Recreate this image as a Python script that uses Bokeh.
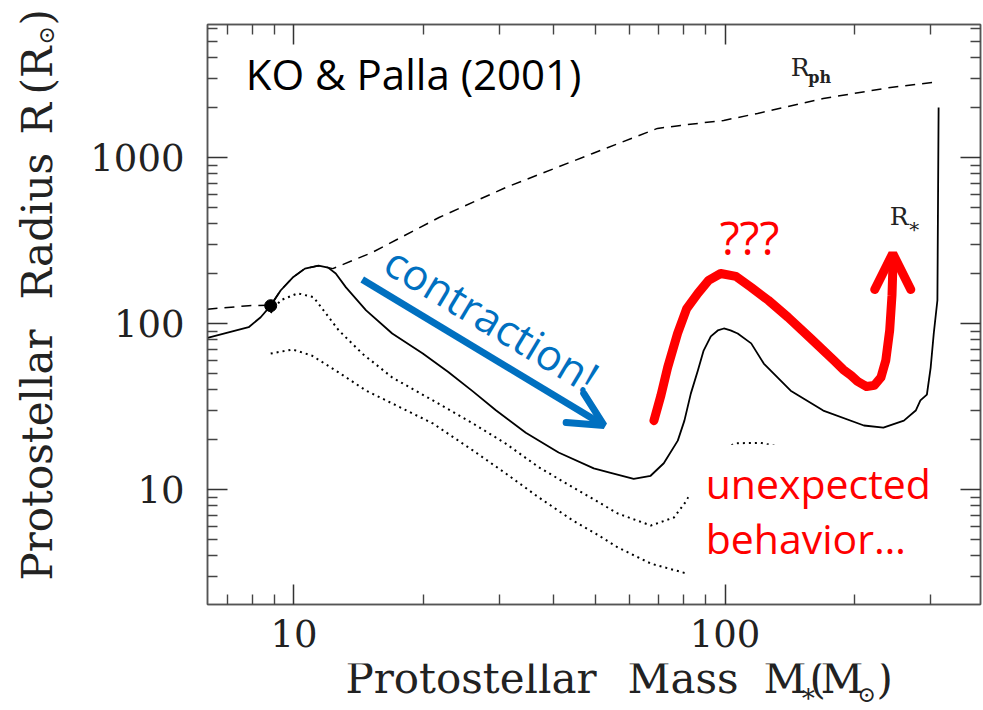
from bokeh.plotting import figure
from bokeh.layouts import row, column
from bokeh.models import (LogAxis, Range1d, Label, Arrow, OpenHead, BoxAnnotation,
                          PrintfTickFormatter, FixedTicker)
from bokeh.embed import file_html
from bokeh.resources import INLINE

# Protostellar radius R* versus accreted mass (solid)
mass_star = [6.3, 7.85, 8.37, 8.83, 9.31, 9.93, 10.6, 11.4, 12.0, 12.5, 13.2, 14.7, 16.9,
             19.9, 22.8, 26.0, 29.4, 34.5, 41.1, 49.6, 54.3, 61.4, 67.2, 72.1, 77.7, 80.5,
             83.3, 86.5, 89.2, 92.7, 96.2, 99.4, 103, 107, 115, 123, 142, 169, 210, 233,
             260, 277, 284, 294, 300, 305, 311, 313]
radius_star = [82, 95, 109, 128, 158, 189, 214, 223, 217, 200, 165, 120, 87,
               66, 51, 39, 30, 22, 16.7, 13.4, 12.6, 11.6, 12.1, 14.4, 19.7, 26.0,
               37.8, 52.1, 68.7, 83.6, 90.8, 93.3, 90.8, 87, 75.9, 57.4, 39.4, 29.9, 24.3, 23.6,
               26.0, 29.9, 34.4, 37.3, 54.3, 87, 138, 2000]

# photospheric radius R_ph (dashed)
mass_ph = [6.3, 7.85, 8.83, 9.31, 9.93, 10.6, 11.4, 12.3, 15.2, 21.7, 31.0, 49.3, 69.7,
           78.9, 99.3, 119, 169, 242, 305]
radius_ph = [122, 128, 129, 158, 189, 214, 223, 214, 268, 435, 659, 1057, 1496,
             1560, 1671, 1842, 2265, 2641, 2833]

# lower accretion-rate models (dotted)
mass_low1 = [8.83, 9.31, 10.2, 11.1, 12.7, 14.4, 16.9, 21.0, 26.0, 31.0, 37.0, 44.4, 50.1,
             56.4, 67.3, 76.1, 81.5, 87.7, 95.1, 106, 121, 150]
radius_low1 = [116, 138, 152, 144, 90.9, 65.9, 47.3, 34.4, 25.0, 18.9, 13.6, 10.3, 8.59,
               7.17, 6.07, 6.78, 8.59, 13.0, 16.7, 19.0, 19.1, 17.0]

mass_low2 = [8.83, 9.93, 11.0, 12.7, 14.7, 16.9, 21.0, 26.0, 31.0, 37.0, 44.4, 50.1, 56.4,
             67.3, 81.5]
radius_low2 = [65.9, 69.7, 64.1, 50.7, 39.4, 33.0, 25.0, 17.2, 12.5, 8.95, 6.50, 5.43, 4.48,
               3.58, 3.12]

# starting point of the tracks
start_mass = [8.83]
start_radius = [128]

# hand-drawn "???" excursion
sketch_mass = [68.4, 71.0, 73.6, 77.6, 81.5, 86.5, 91.6, 97.7, 106, 115, 126, 140, 158,
               179, 188, 196, 203, 213, 222, 230, 236, 241, 244, 245]
sketch_radius = [26.0, 36.8, 54.3, 87.1, 123, 152, 182, 200, 192, 165, 138, 109, 81.3,
                 59.8, 52.8, 48.7, 44.8, 41.7, 42.4, 47.3, 59.8, 90.8, 148, 208]
sketch_tip = (245, 264)

# contraction arrow
contraction_from = (14.4, 184)
contraction_to = (52.4, 24.3)

x_major = [10, 100]
x_minor = [7, 8, 9, 20, 30, 40, 50, 60, 70, 80, 90, 200, 300]
y_major = [10, 100, 1000]
y_minor = [3, 4, 5, 6, 7, 8, 9, 20, 30, 40, 50, 60, 70, 80, 90,
           200, 300, 400, 500, 600, 700, 800, 900, 2000, 3000, 4000, 5000, 6000]

SERIF = "DejaVu Serif"
SANS = "Open Sans"
INK = "#222222"

p = figure(width=913, height=663, x_axis_type="log", y_axis_type="log",
           x_range=Range1d(6.3, 391.5), y_range=Range1d(2.03, 6320),
           output_backend="svg", toolbar_location=None,
           min_border_left=137, min_border_right=3, min_border_top=24, min_border_bottom=59,
           background_fill_color="white", border_fill_color="white")
p.grid.visible = False
p.outline_line_color = "#555555"
p.outline_line_width = 1.5

p.add_layout(LogAxis(), "above")
p.add_layout(LogAxis(), "right")

for ax in p.axis:
    ax.major_tick_in = 20
    ax.major_tick_out = 0
    ax.minor_tick_in = 10
    ax.minor_tick_out = 0
    ax.major_tick_line_color = "#333333"
    ax.major_tick_line_width = 1.5
    ax.minor_tick_line_color = "#444444"
    ax.minor_tick_line_width = 1.4
    ax.axis_line_color = "#555555"
    ax.axis_line_width = 1.5
    ax.formatter = PrintfTickFormatter(format="%d")
    ax.major_label_text_font = SERIF
    ax.major_label_text_font_size = "37px"
    ax.major_label_text_color = INK
    ax.axis_label = None

for ax in p.below + p.above:
    ax.ticker = FixedTicker(ticks=x_major, minor_ticks=x_minor)
for ax in p.left + p.right:
    ax.ticker = FixedTicker(ticks=y_major, minor_ticks=y_minor)

# mirrored tick marks on the top and right edges carry no numbers
for ax in p.above + p.right:
    ax.major_label_text_font_size = "1px"
    ax.major_label_text_color = None
    ax.major_label_standoff = 0
p.below[0].major_label_standoff = 15
p.left[0].major_label_standoff = 23

# model tracks
p.line(mass_ph, radius_ph, line_color="black", line_width=1.5, line_dash="10 7")
p.line(mass_low1, radius_low1, line_color="black", line_width=2, line_dash="2 4")
p.line(mass_low2, radius_low2, line_color="black", line_width=2, line_dash="2 4")
p.line(mass_star, radius_star, line_color="black", line_width=1.8, line_join="round")
p.scatter(start_mass, start_radius, size=12, color="black")

# sketch of the expected behaviour
p.line(sketch_mass, sketch_radius, line_color="#ff0000", line_width=9,
       line_cap="round", line_join="round")
p.add_layout(Arrow(end=OpenHead(line_color="#ff0000", line_width=9, size=36, line_cap="round"),
                   x_start=sketch_mass[-1], y_start=sketch_radius[-1],
                   x_end=sketch_tip[0], y_end=sketch_tip[1],
                   line_color="#ff0000", line_width=9))

p.add_layout(Arrow(end=OpenHead(line_color="#0070c0", line_width=7, size=34, line_cap="round"),
                   x_start=contraction_from[0], y_start=contraction_from[1],
                   x_end=contraction_to[0], y_end=contraction_to[1],
                   line_color="#0070c0", line_width=7))

# white panel behind the red note
p.add_layout(BoxAnnotation(left=82.4, right=334, bottom=2.91, top=18.6,
                           fill_color="white", fill_alpha=1.0, line_alpha=0))


def note(fig, x, y, text, font, size, color, **kw):
    kw.setdefault("text_baseline", "alphabetic")
    fig.add_layout(Label(x=x, y=y, text=text, text_font=font, text_font_size=size,
                         text_color=color, **kw))


note(p, 7.73, 3206, "KO & Palla (2001)", SANS, "42px", "black")
note(p, 28.8, 107, "contraction!", SANS, "43px", "#0070c0",
     angle=-31, angle_units="deg", text_align="center", text_baseline="middle")
note(p, 114, 333, "???", SANS, "46px", "#ff0000", text_align="center")
note(p, 90.2, 10.9, "unexpected", SANS, "41px", "#ff0000")
note(p, 90.2, 5.07, "behavior…", SANS, "41px", "#ff0000")

# curve labels
note(p, 142, 3500, "R", SERIF, "25px", INK)
note(p, 156, 3050, "ph", SERIF, "16px", INK, text_font_style="bold")
note(p, 241, 442, "R", SERIF, "25px", INK)
note(p, 265, 384, "∗", SERIF, "20px", INK, text_baseline="middle")


def strip(width, height, x_range):
    f = figure(width=width, height=height, x_range=x_range,
               y_range=Range1d(0, height), output_backend="svg", toolbar_location=None,
               x_axis_location=None, y_axis_location=None, min_border=0,
               outline_line_color=None, background_fill_color="white",
               border_fill_color="white")
    f.grid.visible = False
    return f


# vertical axis title
ytitle = strip(70, 710, Range1d(0, 70))
rot = dict(angle=90, angle_units="deg")
note(ytitle, 37, 130, "Protostellar", SERIF, "42px", INK, **rot)
note(ytitle, 37, 411, "Radius", SERIF, "42px", INK, **rot)
note(ytitle, 37, 576, "R", SERIF, "42px", INK, **rot)
note(ytitle, 37, 616, "(R", SERIF, "42px", INK, **rot)
note(ytitle, 46, 666, "⊙", SERIF, "22px", INK, **rot)
note(ytitle, 37, 685, ")", SERIF, "42px", INK, **rot)

# horizontal axis title, sharing the plot frame's horizontal extent
xtitle = strip(913, 47, Range1d(207, 980))
note(xtitle, 345, 32, "Protostellar", SERIF, "42px", INK)
note(xtitle, 627, 32, "Mass", SERIF, "42px", INK)
note(xtitle, 763, 32, "M", SERIF, "42px", INK)
note(xtitle, 799, 18, "∗", SERIF, "26px", INK)
note(xtitle, 809, 32, "(", SERIF, "42px", INK)
note(xtitle, 820, 32, "M", SERIF, "42px", INK)
note(xtitle, 857, 16, "⊙", SERIF, "22px", INK)
note(xtitle, 876, 32, ")", SERIF, "42px", INK)

layout = row(ytitle, column(p, xtitle))
open("out.html", "w").write(file_html(layout, INLINE))
